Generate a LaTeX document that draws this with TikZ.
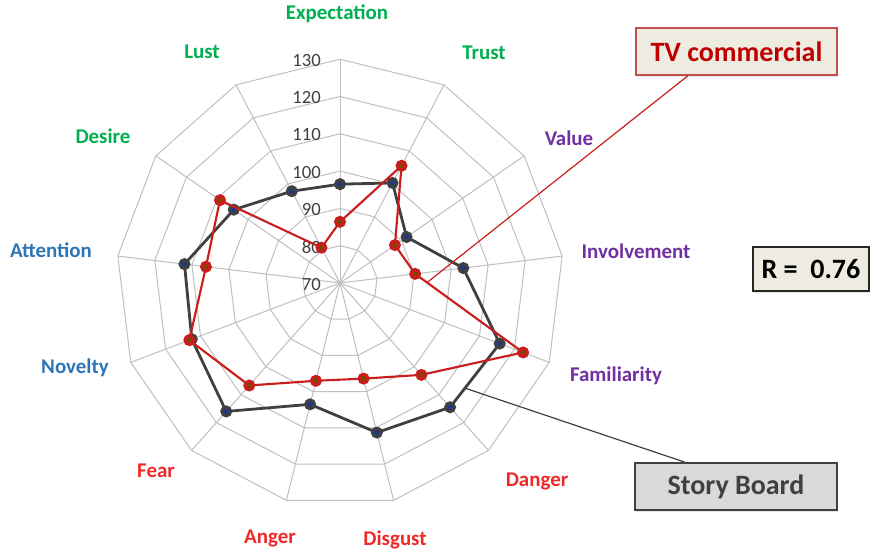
\documentclass[tikz,border=0pt]{standalone}
\usepackage{fontspec}
\setmainfont{Carlito}
\usetikzlibrary{calc,shadows}
\definecolor{gridc}{RGB}{191,191,191}
\definecolor{lgreen}{RGB}{0,176,80}
\definecolor{lpurple}{RGB}{112,48,160}
\definecolor{lblue}{RGB}{46,117,182}
\definecolor{lred}{RGB}{240,40,40}
\definecolor{sbdark}{RGB}{64,64,64}
\definecolor{sbnavy}{RGB}{31,56,140}
\definecolor{tvred}{RGB}{200,30,30}
\definecolor{tvbrown}{RGB}{127,70,0}
\definecolor{tanbg}{RGB}{238,236,225}
\definecolor{boxred}{RGB}{192,80,77}
\definecolor{tvtext}{RGB}{192,0,0}
\definecolor{sbfill}{RGB}{217,217,217}
\definecolor{ticktext}{RGB}{64,64,64}
\begin{document}
\begin{tikzpicture}[x=0.75pt,y=-0.75pt,
  gridline/.style={draw=gridc,line width=0.75pt},
  axlabel/.style={font=\fontsize{15.7}{18}\selectfont\bfseries,inner sep=0pt},
  ticklabel/.style={font=\fontsize{14}{16}\selectfont,text=ticktext,anchor=east,inner sep=0pt},
  sbline/.style={draw=sbdark,line width=2.1pt,line join=round},
  tvline/.style={draw=tvred,line width=1.6pt,line join=round},
  sbmark/.style={circle,draw=sbdark,fill=sbnavy,line width=2.4pt,minimum size=6.5pt,inner sep=0pt},
  tvmark/.style={circle,draw=tvred,fill=tvbrown,line width=2.4pt,minimum size=6.5pt,inner sep=0pt},
  calloutbox/.style={font=\fontsize{21}{24}\selectfont\bfseries,inner sep=0pt,line width=1.1pt,
    drop shadow={opacity=0.2,shadow xshift=1pt,shadow yshift=-1.2pt}},
  conn/.style={line width=0.9pt}
]
\useasboundingbox (0,0) rectangle (876,551);
\def\cx{340}\def\cy{283}\def\sc{3.73}
% rings
\foreach \v in {80,90,...,130}{
  \draw[gridline] plot[samples at={0,...,12}] ({\cx+(\v-70)*\sc*sin(\x*360/13)},{\cy-(\v-70)*\sc*cos(\x*360/13)}) -- cycle;
}
% spokes
\foreach \k in {0,...,12}{
  \draw[gridline] (\cx,\cy) -- ({\cx+60*\sc*sin(\k*360/13)},{\cy-60*\sc*cos(\k*360/13)});
}
% tick labels
\foreach \v in {70,80,...,130}{
  \node[ticklabel] (t\v) at (321,{\cy-(\v-70)*\sc+1}) {\v};
}
% axis labels
\node[axlabel,text=lgreen] (lexp) at (337,14) {Expectation};
\node[axlabel,text=lgreen] (ltru) at (484,53) {Trust};
\node[axlabel,text=lpurple] (lval) at (569,138) {Value};
\node[axlabel,text=lpurple] (linv) at (636,251) {Involvement};
\node[axlabel,text=lpurple] (lfam) at (616,376) {Familiarity};
\node[axlabel,text=lred] (ldan) at (537,481) {Danger};
\node[axlabel,text=lred] (ldis) at (395,540) {Disgust};
\node[axlabel,text=lred] (lang) at (270,538) {Anger};
\node[axlabel,text=lred] (lfea) at (156,471) {Fear};
\node[axlabel,text=lblue] (lnov) at (75,368) {Novelty};
\node[axlabel,text=lblue] (latt) at (51,250) {Attention};
\node[axlabel,text=lgreen] (ldes) at (103,136) {Desire};
\node[axlabel,text=lgreen] (llus) at (202,52) {Lust};
% Story Board series
\foreach \v [count=\i from 0] in {96.5,100.3,91.7,103.3,115.8,114.5,111.3,103.5,116,112.5,112,104.6,97.8}{
  \coordinate (sb\i) at ({\cx+(\v-70)*\sc*sin(\i*360/13)},{\cy-(\v-70)*\sc*cos(\i*360/13)});
}
\draw[sbline] (sb0) -- (sb1) -- (sb2) -- (sb3) -- (sb4) -- (sb5) -- (sb6) -- (sb7) -- (sb8) -- (sb9) -- (sb10) -- (sb11) -- (sb12) -- cycle;
\foreach \i in {0,...,12}{ \node[sbmark] (sbm\i) at (sb\i) {}; }
% TV commercial series
\foreach \v [count=\i from 0] in {86.4,105.5,87.9,90.3,122.5,102.9,96.4,97,106.7,113.2,106.2,109.1,80.7}{
  \coordinate (tv\i) at ({\cx+(\v-70)*\sc*sin(\i*360/13)},{\cy-(\v-70)*\sc*cos(\i*360/13)});
}
\draw[tvline] (tv0) -- (tv1) -- (tv2) -- (tv3) -- (tv4) -- (tv5) -- (tv6) -- (tv7) -- (tv8) -- (tv9) -- (tv10) -- (tv11) -- (tv12) -- cycle;
\foreach \i in {0,...,12}{ \node[tvmark] (tvm\i) at (tv\i) {}; }
% callout boxes
\node[calloutbox,draw=boxred,fill=tanbg,text=tvtext,minimum width=150.75pt,minimum height=35.25pt] (tvbox) at (736.5,51.5) {TV commercial};
\node[calloutbox,draw=black!85,fill=tanbg,text=black,minimum width=87pt,minimum height=33pt] (rbox) at (811,269) {R =\ \ 0.76};
\node[calloutbox,draw=sbdark,fill=sbfill,text=sbdark,minimum width=151.5pt,minimum height=35.25pt] (sbbox) at (736,486.5) {Story Board};
% connectors
\coordinate (tvstart) at ($(tvbox.south west)!0.26!(tvbox.south east)$);
\coordinate (tvend) at ($(tv3)!0.11!(tv4)$);
\draw[conn,draw=tvred] (tvstart) -- (tvend);
\coordinate (sbstart) at ($(sbbox.north west)!0.25!(sbbox.north east)$);
\coordinate (sbend) at ($(sb4)!0.7!(sb5)$);
\draw[conn,draw=sbdark] (sbstart) -- (sbend);
\end{tikzpicture}
\end{document}
